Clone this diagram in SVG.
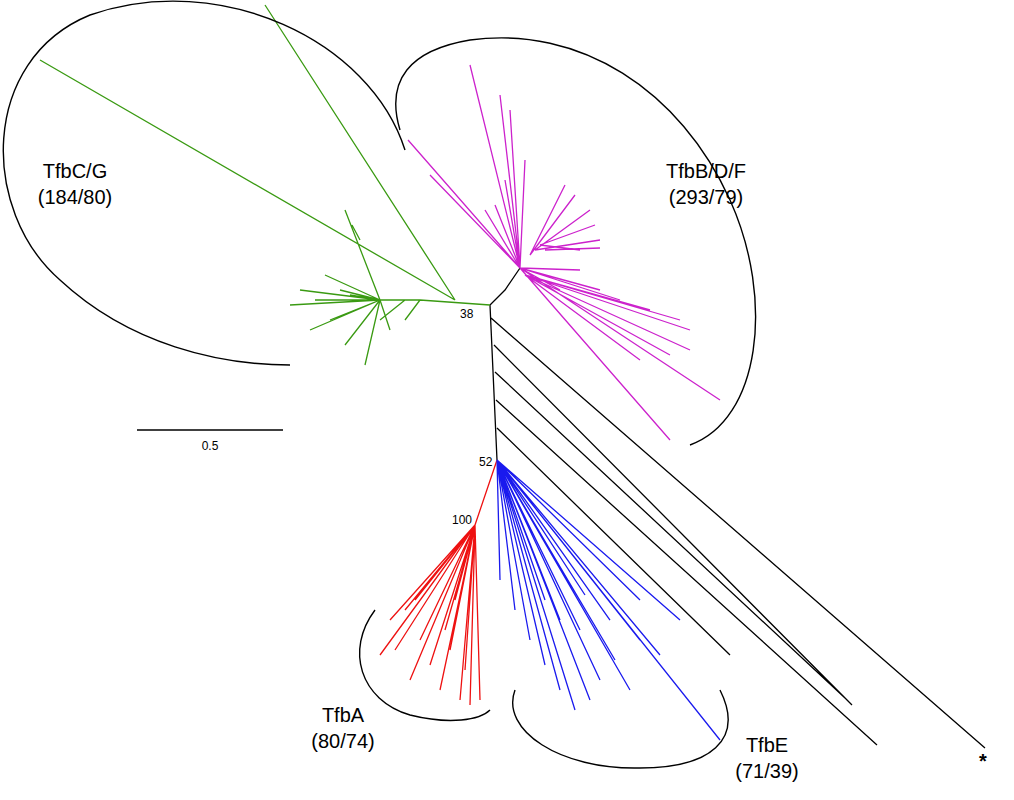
<svg xmlns="http://www.w3.org/2000/svg" width="1014" height="800" viewBox="0 0 1014 800">
<style>
text{font-family:"Liberation Sans",Arial,sans-serif;fill:#000}
.lab{font-size:20px;text-anchor:middle}
.num{font-size:12px}
.g{stroke:#3a9a12;fill:none;stroke-width:1.3}
.m{stroke:#cc22cc;fill:none;stroke-width:1.3}
.r{stroke:#ee1111;fill:none;stroke-width:1.3}
.b{stroke:#1a1aee;fill:none;stroke-width:1.3}
.k{stroke:#000;fill:none;stroke-width:1.3}
.arc{stroke:#000;fill:none;stroke-width:1.4}
</style>
<rect width="1014" height="800" fill="#fff"/>
<g id="connectors">
<path class="k" d="M490,305 L497,460 M491,318 L985,748 M494,345 L852,705 M495,372 L845,698 M496,400 L877,745 M497,428 L730,655 M490,305 L505,290 L520,268"/>
<path class="g" d="M490,305 L420,300 L380,300 M455,300 L40,60 M455,300 L265,5 M420,300 L405,320 M405,300 L380,320 M380,300 L345,210 M360,240 L352,225 M380,300 L290,305 M380,300 L300,290 M380,300 L325,275 M380,300 L340,290 M380,300 L310,330 M380,300 L330,320 M380,300 L345,345 M380,300 L365,365 M380,300 L390,330 M380,300 L315,300 M380,300 L350,295 M380,300 L355,310"/>
<path class="m" d="M520,268 L470,65 M520,268 L408,140 M520,268 L430,175 M520,268 L500,95 M520,268 L510,110 M520,268 L525,160 M520,268 L485,210 M520,268 L495,205 M520,268 L505,180 M530,255 L565,185 M530,255 L575,195 M535,250 L600,240 M535,250 L590,210 M540,245 L595,225 M540,245 L580,250 M545,250 L600,248 M520,268 L720,400 M520,268 L670,440 M525,275 L690,330 M525,275 L690,350 M525,275 L680,320 M525,275 L670,355 M525,275 L650,310 M525,275 L640,360 M520,268 L580,270 M520,268 L600,290 M520,268 L560,290 M520,268 L620,300"/>
<path class="r" d="M497,460 L475,525 M475,525 L380,655 M475,525 L395,650 M475,525 L410,680 M475,525 L420,640 M475,525 L430,665 M475,525 L440,690 M475,525 L390,620 M475,525 L405,610 M475,525 L450,650 M475,525 L460,700 M475,525 L470,705 M475,525 L480,700 M475,525 L465,670 M475,525 L455,600 M475,525 L445,630 M475,525 L415,600"/>
<path class="b" d="M497,460 L720,740 M497,460 L500,580 M497,460 L515,610 M497,460 L530,640 M497,460 L545,665 M497,460 L560,690 M497,460 L575,710 M497,460 L590,700 M497,460 L600,680 M497,460 L615,660 M497,460 L630,690 M497,460 L640,640 M497,460 L660,655 M497,460 L580,630 M497,460 L560,620 M497,460 L545,600 M497,460 L610,620 M497,460 L585,595 M497,460 L640,600 M497,460 L680,620"/>
</g>
<g id="clades">
<path class="arc" d="M405,150 C370,40 220,-30 90,15 C-20,60 -20,210 60,280 C130,345 220,365 290,365"/>
<path class="arc" d="M400,130 C385,80 410,50 470,40 C580,25 680,90 730,200 C775,300 760,420 690,445"/>
<path class="arc" d="M375,610 C345,650 360,700 410,715 C450,725 480,720 490,710"/>
<path class="arc" d="M515,690 C500,730 560,770 640,768 C710,768 745,740 720,690"/>
</g>
<g id="scale"><path class="k" d="M137,430 L283,430"/><text x="210" y="450" class="num" text-anchor="middle">0.5</text></g>
<g id="labels">
<text class="lab" x="75" y="178">TfbC/G</text><text class="lab" x="75" y="204">(184/80)</text>
<text class="lab" x="706" y="178">TfbB/D/F</text><text class="lab" x="706" y="204">(293/79)</text>
<text class="lab" x="343" y="722">TfbA</text><text class="lab" x="343" y="748">(80/74)</text>
<text class="lab" x="767" y="752">TfbE</text><text class="lab" x="767" y="778">(71/39)</text>
<text class="num" x="460" y="318">38</text><text class="num" x="479" y="466">52</text><text class="num" x="452" y="524">100</text>
<text x="983" y="768" font-size="20" font-weight="bold" text-anchor="middle">*</text>
</g>
</svg>
